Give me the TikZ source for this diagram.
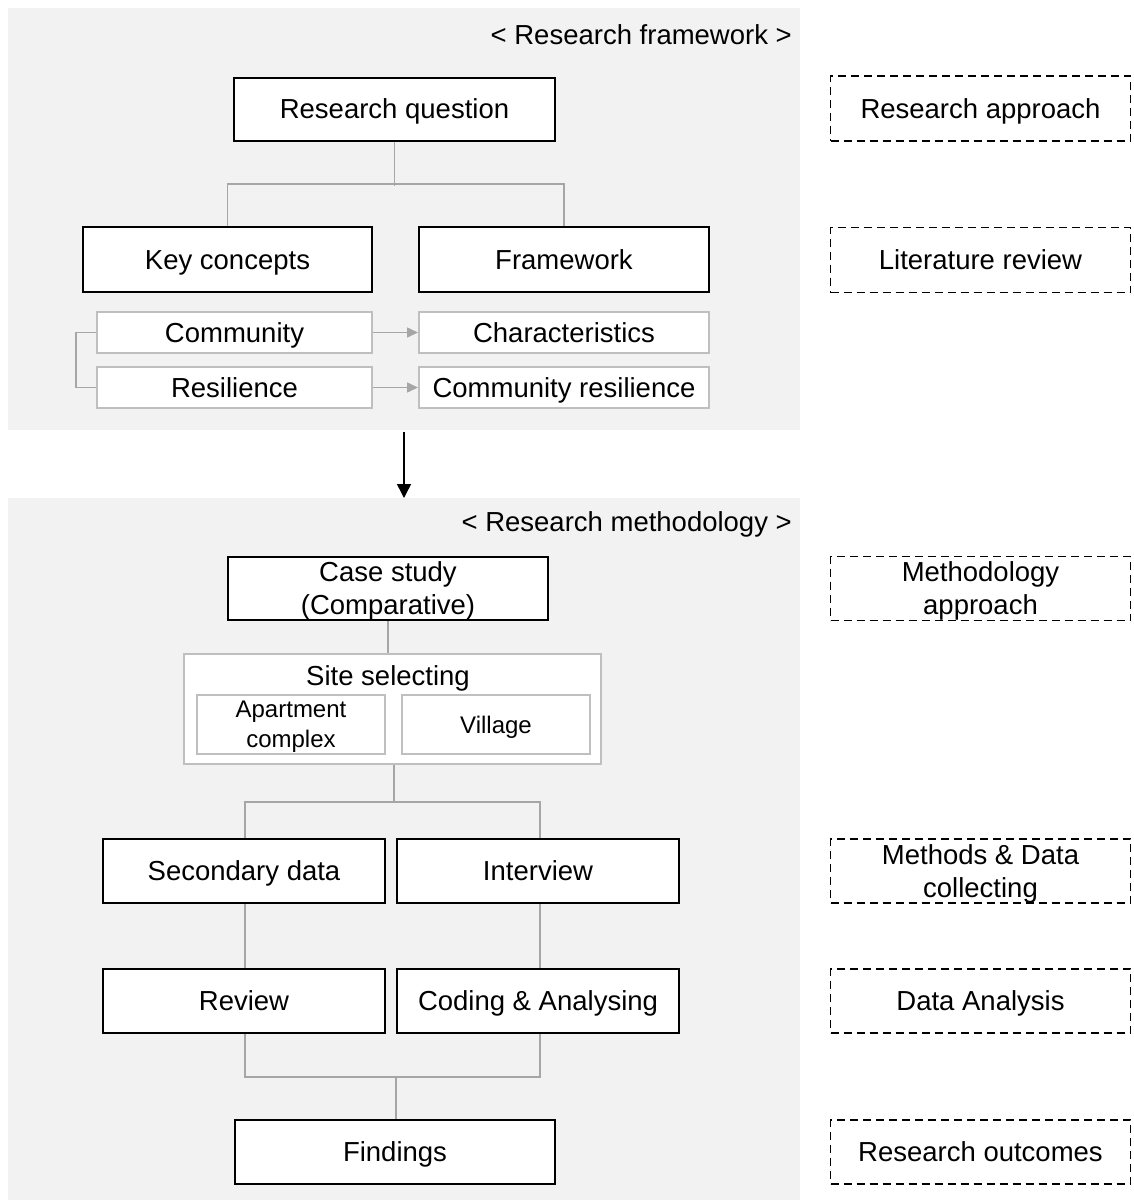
\documentclass[tikz,border=0pt]{standalone}
\usepackage{fontspec}
\setmainfont{Liberation Sans}
\usetikzlibrary{arrows.meta}

\begin{document}
\begin{tikzpicture}[x=1pt, y=-1pt,
    every node/.style={font=\fontsize{27.5}{33}\selectfont, align=center, inner sep=0pt, text depth=0pt},
    oneline/.style={text height=19.7pt},
    mainbox/.style={draw=black, line width=2pt, fill=white},
    subbox/.style={draw=black!25, line width=2pt, fill=white},
    notebox/.style={draw=black, line width=1.8pt, dash pattern=on 8pt off 5pt},
    link/.style={draw=black!35, line width=1.5pt},
    small/.style={font=\fontsize{24}{30}\selectfont},
  ]
	
	\useasboundingbox (0, 0) rectangle (1134, 1200);
	
	% panels
	\fill [black!5] (8, 8) rectangle (800, 430);
	\fill [black!5] (8, 498) rectangle (800, 1200);
	
	\node [oneline, anchor=east] (titleA) at (792, 35) {< Research framework >};
	\node [oneline, anchor=east] (titleB) at (792, 522) {< Research methodology >};
	
	% research framework
	\node [mainbox, oneline, minimum width=321, minimum height=63] (question) at (394.5, 109) {Research question};
	\node [mainbox, oneline, minimum width=289, minimum height=65] (keys) at (227.5, 259.5) {Key concepts};
	\node [mainbox, oneline, minimum width=290, minimum height=65] (frame) at (564, 259.5) {Framework};
	\node [subbox, oneline, minimum width=275, minimum height=41] (community) at (234.5, 332.5) {Community};
	\node [subbox, oneline, minimum width=290, minimum height=41] (charac) at (564, 332.5) {Characteristics};
	\node [subbox, oneline, minimum width=275, minimum height=41] (resilience) at (234.5, 387.5) {Resilience};
	\node [subbox, oneline, minimum width=290, minimum height=41] (comres) at (564, 387.5) {Community resilience};
	
	\draw [link] (question.south) -- ++(0, 44);
	\draw [link] (keys.north) -- ++(0, -42) -| (frame.north);
	\draw [link] (community.west) -- ++(-20, 0) |- (resilience.west);
	\draw [link, -{Triangle[length=11pt, width=10pt]}] (community.east) -- (charac.west);
	\draw [link, -{Triangle[length=11pt, width=10pt]}] (resilience.east) -- (comres.west);
	
	\coordinate (down) at (404, 432);
	\coordinate (downend) at (404, 498);
	\draw [line width=1.5pt, -{Triangle[length=14pt, width=14pt]}] (down) -- (downend);
	
	% research methodology
	\node [mainbox, minimum width=320, minimum height=63] (case) at (388, 588.5) {Case study\\(Comparative)};
	\node [subbox, minimum width=417, minimum height=110] (site) at (392.5, 709) {};
	\node [oneline] (sitetitle) at (388, 676) {Site selecting};
	\node [subbox, small, minimum width=188, minimum height=59] (apart) at (291, 724.5) {Apartment\\complex};
	\node [subbox, small, text height=17.2pt, minimum width=188, minimum height=59] (village) at (496, 724.5) {Village};
	\node [mainbox, oneline, minimum width=282, minimum height=64] (secondary) at (244, 871) {Secondary data};
	\node [mainbox, oneline, minimum width=282, minimum height=64] (interview) at (538, 871) {Interview};
	\node [mainbox, oneline, minimum width=282, minimum height=64] (review) at (244, 1001) {Review};
	\node [mainbox, oneline, minimum width=282, minimum height=64] (coding) at (538, 1001) {Coding \& Analysing};
	\node [mainbox, oneline, minimum width=320, minimum height=64] (findings) at (395, 1152) {Findings};
	
	\draw [link] (case.south) -- (case.south |- site.north);
	\draw [link] (site.south) ++(1.5, 0) -- ++(0, 37);
	\draw [link] (secondary.north) ++(1, 0) -- ++(0, -36) -| ([xshift=2pt]interview.north);
	\draw [link] (secondary.south) ++(1, 0) -- ([xshift=1pt]review.north);
	\draw [link] (interview.south) ++(2, 0) -- ([xshift=2pt]coding.north);
	\draw [link] (review.south) ++(1, 0) -- ++(0, 43) -| ([xshift=2pt]coding.south);
	\draw [link] (findings.north) ++(1, 0) -- ++(0, -42);
	
	% right column
	\node [notebox, oneline, minimum width=300, minimum height=65] (approach) at (980.5, 108.5) {Research approach};
	\node [notebox, oneline, minimum width=300, minimum height=65] (literature) at (980.5, 260) {Literature review};
	\node [notebox, minimum width=300, minimum height=64] (methodology) at (980.5, 588.5) {Methodology\\approach};
	\node [notebox, minimum width=300, minimum height=64] (methods) at (980.5, 871) {Methods \& Data\\collecting};
	\node [notebox, oneline, minimum width=300, minimum height=64] (analysis) at (980.5, 1001) {Data Analysis};
	\node [notebox, oneline, minimum width=300, minimum height=64] (outcomes) at (980.5, 1152) {Research outcomes};
	
\end{tikzpicture}
\end{document}
